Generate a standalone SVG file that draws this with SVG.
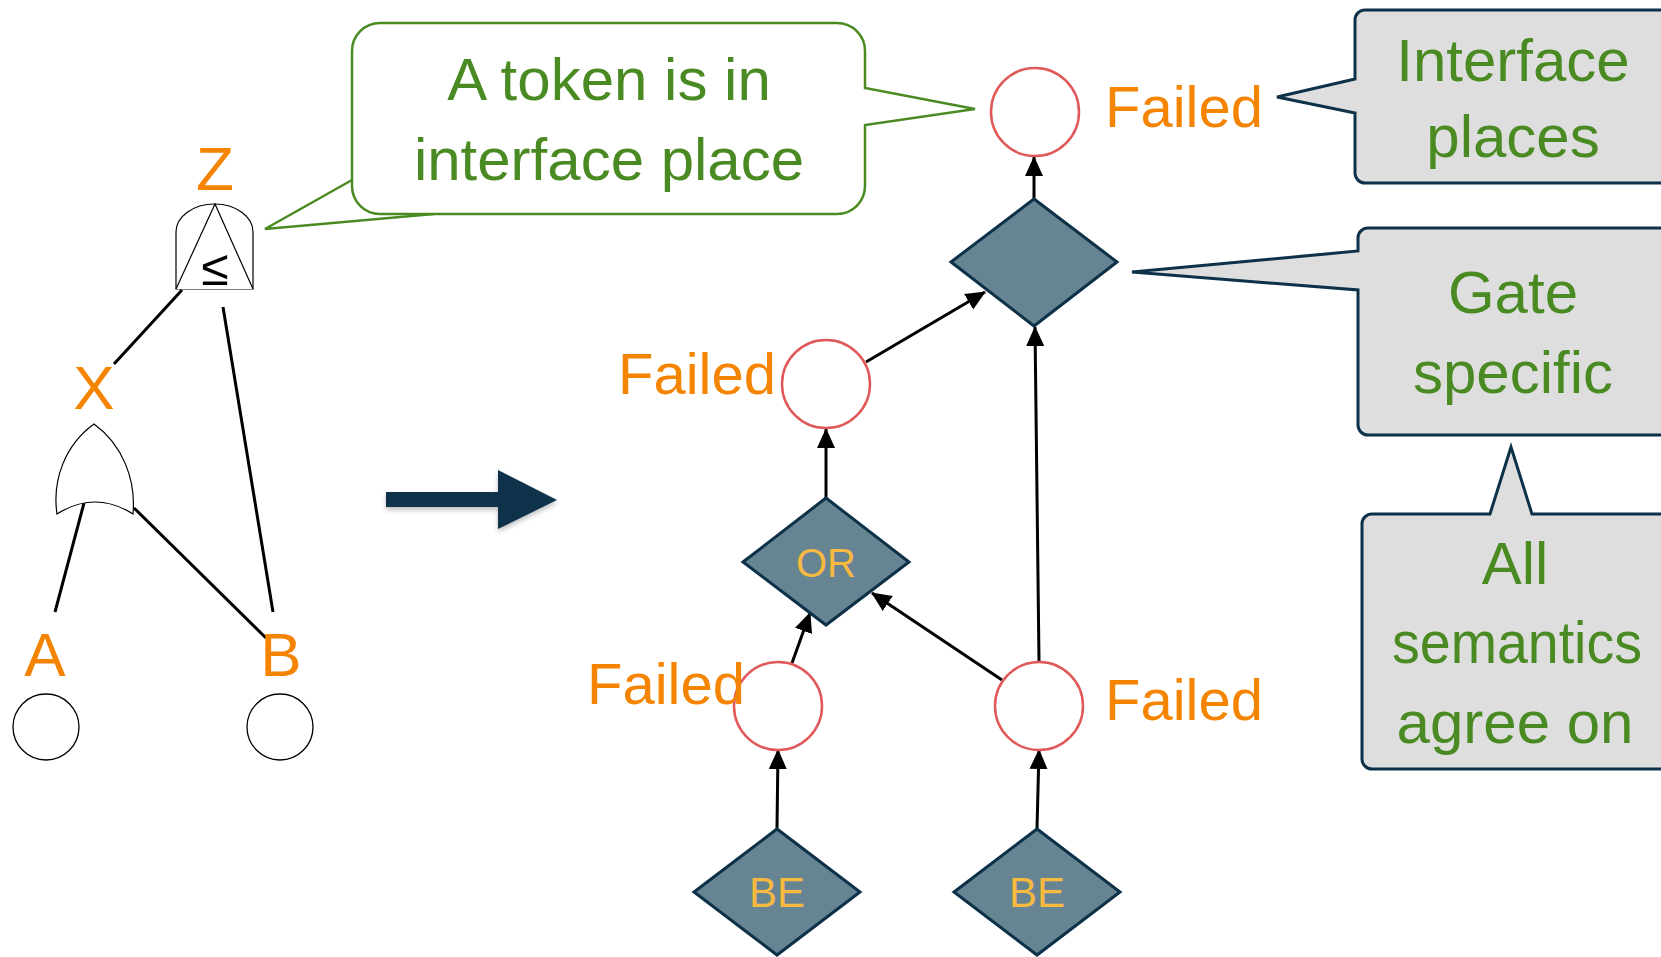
<svg xmlns="http://www.w3.org/2000/svg" width="1661" height="957" viewBox="0 0 1661 957">
  <style>
    .lbl { font-family: "Liberation Sans", Arial, sans-serif; fill: #f58400; }
    .note { font-family: "Liberation Sans", Arial, sans-serif; font-size: 60px; fill: #4a8a22; text-anchor: middle; }
    .gtxt { font-family: "Liberation Sans", Arial, sans-serif; fill: #f7b940; text-anchor: middle; }
    .place { fill: #ffffff; stroke: #e05858; stroke-width: 2.5; }
    .trans { fill: #668492; stroke: #0d3149; stroke-width: 3; stroke-linejoin: miter; }
    .gray { fill: #dedede; stroke: #0d3149; stroke-width: 3; stroke-linejoin: miter; }
    .edge { stroke: #000; stroke-width: 3; fill: none; }
    .tree { stroke: #000; stroke-width: 3; fill: none; }
    .gate { fill: #fff; stroke: #000; stroke-width: 1.2; }
  </style>
  <defs>
    <marker id="arr" markerUnits="userSpaceOnUse" markerWidth="20" markerHeight="20" viewBox="0 0 20 18" refX="19" refY="9" orient="auto">
      <path d="M0,0 L20,9 L0,18 Z" fill="#000"/>
    </marker>
    <filter id="shadow" x="-20%" y="-30%" width="140%" height="170%">
      <feDropShadow dx="0" dy="3" stdDeviation="2.5" flood-color="#000" flood-opacity="0.25"/>
    </filter>
  </defs>

  <rect width="1661" height="957" fill="#ffffff"/>

  <!-- fault tree: edges -->
  <g id="tree-edges">
    <line class="tree" x1="182" y1="290" x2="114" y2="364"/>
    <line class="tree" x1="223" y1="307" x2="273" y2="612"/>
    <line class="tree" x1="84" y1="503" x2="55" y2="612"/>
    <line class="tree" x1="134" y1="508" x2="266" y2="638"/>
  </g>

  <!-- fault tree: PAND gate Z -->
  <g id="gate-z">
    <path class="gate" d="M176,289 V232 A38.5,28 0 0 1 253,232 V289 Z"/>
    <path class="gate" fill="none" d="M176,289 L215,204 L253,289"/>
    <text x="215" y="285" font-family="Liberation Sans, Arial, sans-serif" font-size="50" text-anchor="middle" fill="#000">≤</text>
    <text class="lbl" x="215" y="190" font-size="62" text-anchor="middle">Z</text>
  </g>

  <!-- fault tree: OR gate X -->
  <g id="gate-x">
    <path class="gate" d="M57,514 C52,480 65,445 94,424 C123,445 136,480 133,514 Q95,490 57,514 Z"/>
    <text class="lbl" x="94" y="409" font-size="62" text-anchor="middle">X</text>
  </g>

  <!-- fault tree: basic events -->
  <g id="be-a">
    <text class="lbl" x="45" y="676" font-size="62" text-anchor="middle">A</text>
    <circle cx="46" cy="727" r="33" fill="#fff" stroke="#000" stroke-width="1.3"/>
  </g>
  <g id="be-b">
    <text class="lbl" x="281" y="676" font-size="62" text-anchor="middle">B</text>
    <circle cx="280" cy="727" r="33" fill="#fff" stroke="#000" stroke-width="1.3"/>
  </g>

  <!-- translation arrow -->
  <g id="big-arrow" filter="url(#shadow)">
    <path d="M386,492 H498 V470 L557,500 L498,529 V507 H386 Z" fill="#0d3149"/>
  </g>

  <!-- Petri net connectors -->
  <g id="connectors">
    <line class="edge" x1="1034" y1="199" x2="1034" y2="157" marker-end="url(#arr)"/>
    <line class="edge" x1="866" y1="362" x2="985" y2="292" marker-end="url(#arr)"/>
    <line class="edge" x1="1039" y1="661" x2="1035" y2="327" marker-end="url(#arr)"/>
    <line class="edge" x1="826" y1="498" x2="826" y2="429" marker-end="url(#arr)"/>
    <line class="edge" x1="792" y1="663" x2="810" y2="613" marker-end="url(#arr)"/>
    <line class="edge" x1="1002" y1="680" x2="872" y2="593" marker-end="url(#arr)"/>
    <line class="edge" x1="777" y1="829" x2="778" y2="750" marker-end="url(#arr)"/>
    <line class="edge" x1="1037" y1="829" x2="1039" y2="750" marker-end="url(#arr)"/>
  </g>

  <!-- Petri net: top gate and interface place -->
  <g id="gate-top">
    <path class="trans" d="M951,262 L1034,199 L1117,262 L1034,326 Z"/>
  </g>
  <g id="place-top">
    <circle class="place" cx="1035" cy="112" r="44"/>
    <text class="lbl" x="1105" y="127" font-size="58">Failed</text>
  </g>

  <!-- Petri net: OR sub-gate -->
  <g id="place-or">
    <circle class="place" cx="826" cy="384" r="44"/>
    <text class="lbl" x="776" y="394" font-size="58" text-anchor="end">Failed</text>
  </g>
  <g id="gate-or">
    <path class="trans" d="M743,562 L826,498 L909,562 L826,625 Z"/>
    <text class="gtxt" x="826" y="577" font-size="40">OR</text>
  </g>

  <!-- Petri net: basic events -->
  <g id="place-a">
    <circle class="place" cx="778" cy="706" r="44"/>
    <text class="lbl" x="745" y="704" font-size="58" text-anchor="end">Failed</text>
  </g>
  <g id="place-b">
    <circle class="place" cx="1039" cy="706" r="44"/>
    <text class="lbl" x="1105" y="720" font-size="58">Failed</text>
  </g>
  <g id="be-left">
    <path class="trans" d="M694,892 L777,829 L860,892 L777,955 Z"/>
    <text class="gtxt" x="777" y="907" font-size="42">BE</text>
  </g>
  <g id="be-right">
    <path class="trans" d="M954,892 L1037,829 L1120,892 L1037,955 Z"/>
    <text class="gtxt" x="1037" y="907" font-size="42">BE</text>
  </g>

  <!-- callout: token in interface place -->
  <g id="note-token">
    <path d="M352,180 L265,229 L434,214 Z" fill="#fff" stroke="#4a8a22" stroke-width="2.5" stroke-linejoin="miter"/>
    <path d="M380,23 H837 A28,28 0 0 1 865,51 V88 L975,109 L865,125 V186 A28,28 0 0 1 837,214 H380 A28,28 0 0 1 352,186 V51 A28,28 0 0 1 380,23 Z" fill="#fff" stroke="#4a8a22" stroke-width="2.5"/>
    <text class="note" x="609" y="100">A token is in</text>
    <text class="note" x="609" y="180">interface place</text>
  </g>

  <!-- callout: interface places -->
  <g id="note-interface">
    <path class="gray" d="M1365,10 H1680 V183 H1365 A10,10 0 0 1 1355,173 V113 L1277,97 L1355,79 V20 A10,10 0 0 1 1365,10 Z"/>
    <text class="note" x="1513" y="81">Interface</text>
    <text class="note" x="1513" y="157">places</text>
  </g>

  <!-- callout: gate specific -->
  <g id="note-gate">
    <path class="gray" d="M1368,228 H1680 V435 H1368 A10,10 0 0 1 1358,425 V290 L1132,272 L1358,251 V238 A10,10 0 0 1 1368,228 Z"/>
    <text class="note" x="1513" y="313">Gate</text>
    <text class="note" x="1513" y="393">specific</text>
  </g>

  <!-- callout: common semantics -->
  <g id="note-all">
    <path class="gray" d="M1372,514 H1490 L1511,447 L1532,514 H1680 V769 H1372 A10,10 0 0 1 1362,759 V524 A10,10 0 0 1 1372,514 Z"/>
    <text class="note" x="1515" y="584">All</text>
    <text class="note" x="1517" y="663" textLength="250" lengthAdjust="spacingAndGlyphs">semantics</text>
    <text class="note" x="1515" y="743">agree on</text>
  </g>
</svg>
